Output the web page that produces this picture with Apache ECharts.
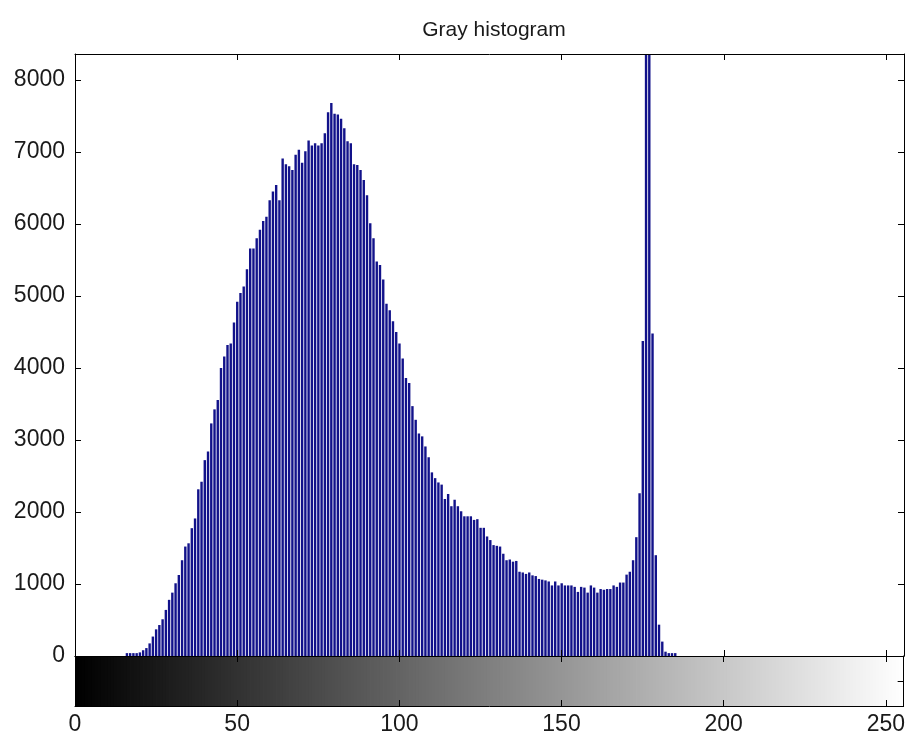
<!DOCTYPE html>
<html>
<head>
<meta charset="utf-8">
<title>Gray histogram</title>
<script src="https://cdn.jsdelivr.net/npm/echarts@6/dist/echarts.min.js"></script>
<style>
  html, body { margin: 0; padding: 0; background: #fff; }
  #main { width: 908px; height: 738px; }
</style>
</head>
<body>
<div id="main"></div>
<script>
// pixel counts per gray level 0..255
var counts = [
    0, 0, 0, 0, 0, 0, 0, 0, 0, 0, 0, 0, 0, 0, 0, 0,
    40, 40, 40, 40, 50, 80, 110, 175, 270, 370, 430, 510, 640, 780, 880, 1010,
    1125, 1330, 1520, 1565, 1775, 1910, 2315, 2420, 2720, 2840, 3230, 3425, 3555, 4000, 4160, 4320,
    4340, 4630, 4920, 5040, 5130, 5370, 5660, 5660, 5800, 5920, 6040, 6100, 6330, 6450, 6540, 6330,
    6910, 6830, 6800, 6750, 6960, 7030, 6850, 7010, 7160, 7090, 7120, 7090, 7120, 7260, 7550, 7680,
    7530, 7520, 7460, 7330, 7150, 7120, 6830, 6820, 6750, 6610, 6400, 6010, 5800, 5480, 5430, 5230,
    4890, 4800, 4650, 4500, 4340, 4130, 3860, 3790, 3470, 3280, 3090, 3050, 2910, 2760, 2550, 2470,
    2410, 2380, 2180, 2250, 2080, 2170, 2080, 2010, 1940, 1940, 1940, 1890, 1900, 1780, 1780, 1660,
    1610, 1540, 1530, 1520, 1420, 1330, 1340, 1310, 1320, 1170, 1160, 1140, 1160, 1120, 1110, 1070,
    1060, 1050, 1035, 980, 1035, 980, 1010, 980, 980, 980, 960, 890, 960, 950, 880, 980,
    950, 880, 930, 920, 930, 930, 980, 960, 1020, 1020, 1130, 1170, 1330, 1650, 2260, 4375,
    14000, 11500, 4480, 1400, 435, 200, 60, 40, 40, 40, 0, 0, 0, 0, 0, 0,
    0, 0, 0, 0, 0, 0, 0, 0, 0, 0, 0, 0, 0, 0, 0, 0,
    0, 0, 0, 0, 0, 0, 0, 0, 0, 0, 0, 0, 0, 0, 0, 0,
    0, 0, 0, 0, 0, 0, 0, 0, 0, 0, 0, 0, 0, 0, 0, 0,
    0, 0, 0, 0, 0, 0, 0, 0, 0, 0, 0, 0, 0, 0, 0, 0
];
var xTicks = [0, 50, 100, 150, 200, 250];
var yTicks = [0, 1000, 2000, 3000, 4000, 5000, 6000, 7000, 8000];
var xMax = 255.5;
var yMax = 8360;

var histData = [];
var rampData = [];
for (var i = 0; i < counts.length; i++) {
    histData.push([i, counts[i]]);
    rampData.push([i, 1]);
}

var font = '"Liberation Sans", Arial, sans-serif';
var ink = '#1a1a1a';

function boxAxis(grid, pos, showLabel, min, max, interval, ticks) {
    return {
        type: 'value',
        gridIndex: grid,
        position: pos,
        min: min,
        max: max,
        interval: interval,
        z: 5,
        axisLine: { show: true, onZero: false, lineStyle: { color: '#000', width: 1 } },
        axisTick: { show: ticks, inside: true, length: 6, lineStyle: { color: '#000' } },
        splitLine: { show: false },
        axisLabel: {
            show: showLabel,
            showMaxLabel: false,
            fontFamily: font,
            fontSize: 23,
            color: ink,
            margin: pos == 'bottom' ? 7 : 10
        }
    };
}

var myChart = echarts.init(document.getElementById('main'));

var option = {
    animation: false,
    backgroundColor: '#fff',
    title: {
        text: 'Gray histogram',
        left: 489,
        top: 15,
        textAlign: 'center',
        textStyle: { fontFamily: font, fontSize: 21, fontWeight: 'normal', color: ink }
    },
    grid: [
        { left: 75, right: 4, top: 54, bottom: 82 },
        { left: 75, right: 4, top: 656, bottom: 32 }
    ],
    xAxis: [
        boxAxis(0, 'bottom', false, 0, xMax, 50, true),
        boxAxis(0, 'top', false, 0, xMax, 50, true),
        boxAxis(1, 'bottom', true, 0, xMax, 50, true),
        boxAxis(1, 'top', false, 0, xMax, 50, true)
    ],
    yAxis: [
        boxAxis(0, 'left', true, 0, yMax, 1000, true),
        boxAxis(0, 'right', false, 0, yMax, 1000, true),
        boxAxis(1, 'left', false, 0, 1, 0.5, false),
        boxAxis(1, 'right', false, 0, 1, 0.5, true)
    ],
    series: [{
        name: 'counts',
        type: 'bar',
        xAxisIndex: 0,
        yAxisIndex: 0,
        data: histData,
        barWidth: 2.4,
        itemStyle: { color: '#12128a' },
        clip: true
    }, {
        name: 'ramp',
        type: 'custom',
        xAxisIndex: 2,
        yAxisIndex: 2,
        data: rampData,
        clip: true,
        renderItem: function (params, api) {
            var g = api.value(0);
            var p0 = api.coord([g, 1]);
            var p1 = api.coord([g + 1, 0]);
            return {
                type: 'rect',
                shape: { x: p0[0], y: p0[1], width: p1[0] - p0[0] + 0.8, height: p1[1] - p0[1] },
                style: { fill: 'rgb(' + g + ',' + g + ',' + g + ')' }
            };
        }
    }]
};

// keep only the listed tick labels
option.xAxis[2].axisLabel.formatter = function (v) {
    return xTicks.indexOf(v) >= 0 ? String(v) : '';
};
option.yAxis[0].axisLabel.formatter = function (v) {
    return yTicks.indexOf(v) >= 0 ? String(v) : '';
};

myChart.setOption(option);
</script>
</body>
</html>
